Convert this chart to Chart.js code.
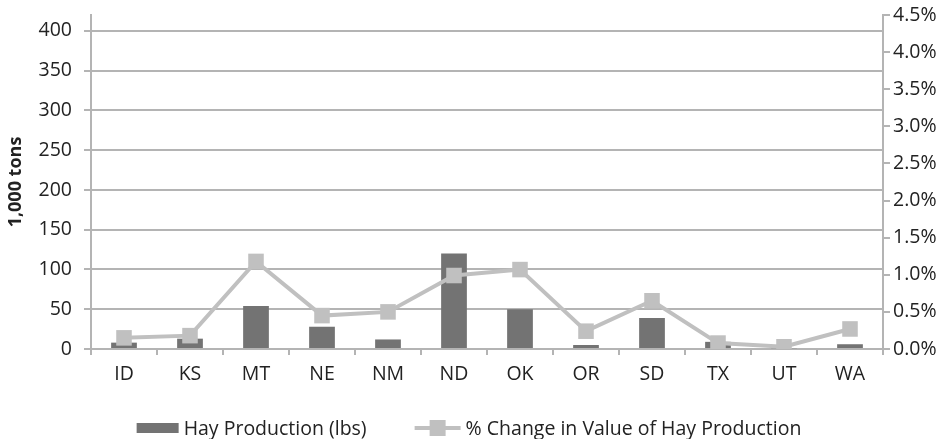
<!DOCTYPE html>
<html>
<head>
<meta charset="utf-8">
<script src="https://cdn.jsdelivr.net/npm/chart.js@4.4.1/dist/chart.umd.min.js"></script>
<style>
  html, body { margin: 0; padding: 0; background: #fff; }
  #wrap { width: 950px; height: 439px; position: relative; }
</style>
</head>
<body>
<div id="wrap"><canvas id="hayChart"></canvas></div>
<script>
// categories and series
const states = ["ID", "KS", "MT", "NE", "NM", "ND", "OK", "OR", "SD", "TX", "UT", "WA"];
const hayProduction = [8, 13, 54, 28, 12, 120, 50, 5, 39, 9, 1, 6];
const pctChange = [0.15, 0.18, 1.18, 0.45, 0.50, 0.99, 1.07, 0.24, 0.65, 0.08, 0.03, 0.27];

// tick labels on both value axes
const leftTicks = [0, 50, 100, 150, 200, 250, 300, 350, 400];
const rightTicks = [0, 0.5, 1.0, 1.5, 2.0, 2.5, 3.0, 3.5, 4.0, 4.5];

const barLabel = "Hay Production (lbs)";
const lineLabel = "% Change in Value of Hay Production";

const barColor = "#737373";
const lineColor = "#c0c0c0";
const gridColor = "#b4b4b4";
const textColor = "#222";
const fontFamily = "'Open Sans', Lato, sans-serif";
const fontSize = 19.5;

// legend under the axis: bar block, then a line with a square marker
const bottomLegend = {
  id: "bottomLegend",
  afterDraw(chart) {
    const c = chart.ctx;
    const barW = 42, lineW = 46, gap = 5, between = 48;
    c.save();
    c.font = fontSize + "px " + fontFamily;
    const w1 = barW + gap + c.measureText(barLabel).width;
    const w2 = lineW + gap + c.measureText(lineLabel).width;
    let x = chart.width / 2 - 6 - (w1 + between + w2) / 2;
    const y = chart.height - 10;

    c.fillStyle = barColor;
    c.fillRect(x, y - 6, barW, 10);
    c.fillStyle = textColor;
    c.textBaseline = "middle";
    c.fillText(barLabel, x + barW + gap, y);

    x += w1 + between;
    c.fillStyle = lineColor;
    c.fillRect(x, y - 3, lineW, 4);
    c.fillRect(x + lineW / 2 - 8, y - 9, 16, 16);
    c.fillStyle = textColor;
    c.fillText(lineLabel, x + lineW + gap, y);
    c.restore();
  }
};

// keep the plot top fixed instead of growing for the top tick labels
function fitValueAxis(width) {
  return function (scale) {
    scale.width = width;
    scale.paddingTop = 15;
    scale.paddingBottom = 0;
  };
}

const ctx = document.getElementById("hayChart").getContext("2d");
new Chart(ctx, {
  type: "bar",
  data: {
    labels: states,
    datasets: [
      {
        label: barLabel,
        data: hayProduction,
        yAxisID: "y",
        backgroundColor: barColor,
        categoryPercentage: 1,
        barPercentage: 0.39,
        order: 1
      },
      {
        type: "line",
        label: lineLabel,
        data: pctChange,
        yAxisID: "y1",
        borderColor: lineColor,
        borderWidth: 4,
        pointStyle: "rect",
        pointRadius: 11,
        pointBackgroundColor: lineColor,
        pointBorderWidth: 0,
        tension: 0,
        order: 0
      }
    ]
  },
  plugins: [bottomLegend],
  options: {
    responsive: true,
    maintainAspectRatio: false,
    animation: false,
    layout: { padding: { top: 0, left: 0, right: 0, bottom: 40 } },
    plugins: {
      tooltip: { enabled: false },
      legend: { display: false }
    },
    scales: {
      x: {
        offset: true,
        grid: { offset: true, drawOnChartArea: false, drawTicks: true, tickLength: 6, color: gridColor, lineWidth: 2 },
        border: { color: gridColor, width: 2 },
        ticks: { color: textColor, font: { family: fontFamily, size: fontSize }, padding: 8 },
        afterFit: function (scale) { scale.height = 50; }
      },
      y: {
        position: "left",
        min: 0,
        max: 420,
        afterBuildTicks: function (scale) { scale.ticks = leftTicks.map(v => ({ value: v })); },
        grid: { color: gridColor, lineWidth: 2, tickLength: 7 },
        border: { color: gridColor, width: 2 },
        ticks: { color: textColor, font: { family: fontFamily, size: fontSize }, padding: 12 },
        title: {
          display: true,
          text: "1,000 tons",
          color: textColor,
          font: { family: fontFamily, size: 18, weight: "bold" },
          padding: { top: 5, bottom: 0 }
        },
        afterFit: fitValueAxis(91)
      },
      y1: {
        position: "right",
        min: 0,
        max: 4.5,
        afterBuildTicks: function (scale) { scale.ticks = rightTicks.map(v => ({ value: v })); },
        grid: { drawOnChartArea: false, color: gridColor, lineWidth: 2, tickLength: 7 },
        border: { color: gridColor, width: 2 },
        ticks: {
          color: textColor,
          font: { family: fontFamily, size: fontSize },
          padding: 3,
          callback: function (value) { return value.toFixed(1) + "%"; }
        },
        afterFit: fitValueAxis(67)
      }
    }
  }
});
</script>
</body>
</html>
